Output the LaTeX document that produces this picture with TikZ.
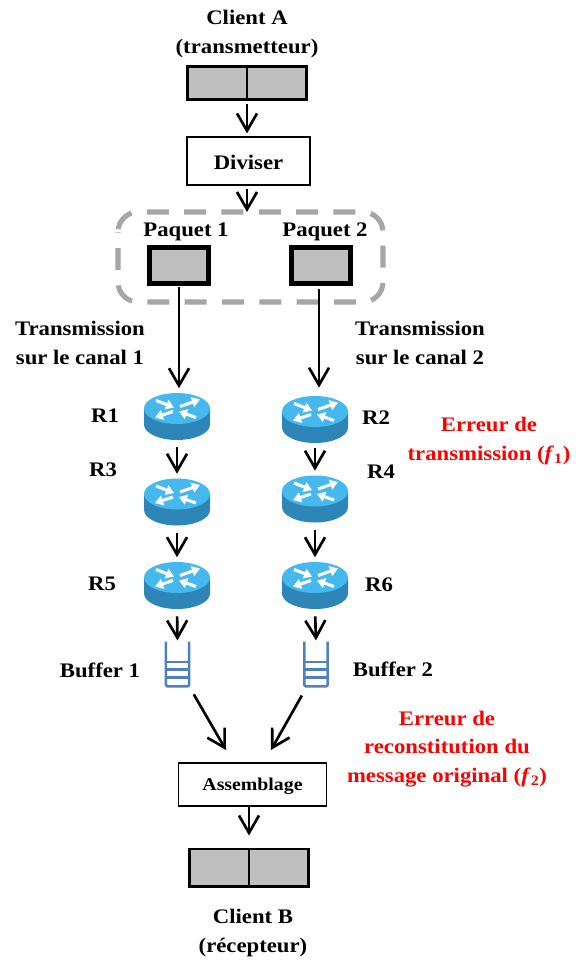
\documentclass[tikz,border=0pt]{standalone}
\usepackage{fontspec}
\usepackage{amsmath}
\setmainfont{Liberation Serif}[FakeStretch=1.1]
\usetikzlibrary{calc}
\usetikzlibrary{arrows.meta}
\definecolor{grisbox}{HTML}{BFBFBF}
\definecolor{grisdash}{HTML}{A6A6A6}
\definecolor{bleutop}{HTML}{45B8EE}
\definecolor{bleuside}{HTML}{2E86B8}
\definecolor{bleubuf}{HTML}{4F81BD}
\tikzset{
  lbl/.style={font=\fontsize{15.5}{21.5}\selectfont\bfseries,align=center,inner sep=0pt},
  errlbl/.style={lbl,text=red},
  whitebox/.style={draw,line width=1.4pt,fill=white,inner sep=0pt},
  msgbox/.style={draw,line width=2pt,fill=grisbox,minimum width=89pt,inner sep=0pt},
  pktbox/.style={draw,line width=3.6pt,fill=grisbox,minimum width=44.5pt,minimum height=27pt,inner sep=0pt},
  arr/.style={line width=2pt,-{Straight Barb[length=13pt,width=15pt,line width=2pt]}},
  bufnode/.style={minimum width=17pt,minimum height=33pt,inner sep=0pt},
  bufline/.style={line width=1.9pt,color=bleubuf},
  whitearr/.style={line width=2.3pt,white,-{Triangle[length=6pt,width=7.5pt]}},
  router/.style={minimum width=51pt,minimum height=36pt,inner sep=0pt,
    path picture={
      \begin{scope}[shift={(path picture bounding box.center)},x=.75pt,y=.75pt]
      \fill[bleuside] (-33,8) -- (-33,-8) arc[start angle=180,end angle=360,x radius=33,y radius=15.5] -- (33,8) -- cycle;
      \fill[bleutop] (0,8) ellipse (33 and 15.5);
      \draw[whitearr] (-21,16) -- (-3,9);
      \draw[whitearr] (3,10) -- (23,17);
      \draw[whitearr] (-4,5) -- (-22,-1);
      \draw[whitearr] (19,-1) -- (2,5);
      \end{scope}
    }}
}
\newcommand{\drawbuf}[1]{
  \draw[bufline,rounded corners=1pt] (#1.north west) -- (#1.south west) -- (#1.south east) -- (#1.north east);
  \foreach \pos in {0.46,0.62,0.8}
    \draw[bufline] ($(#1.north west)!\pos!(#1.south west)$) -- ($(#1.north east)!\pos!(#1.south east)$);
}
\begin{document}
\begin{tikzpicture}[x=.75pt,y=-.75pt]
\useasboundingbox (0,0) rectangle (575,960);
% haut
\node[lbl] (clienta) at (247,34) {Client A\\(transmetteur)};
\node[msgbox,minimum height=25pt] (msga) at (247,83) {};
\draw[line width=2pt] (msga.north) -- (msga.south);
\node[whitebox,minimum width=92pt,minimum height=36pt] (diviser) at (248.5,161) {};
\node[lbl] (divisertxt) at (248.5,162) {Diviser};
\draw[grisdash,line width=3.8pt,rounded corners=15pt,dash pattern=on 16.5pt off 11.5pt,dash phase=16pt] (118,212) rectangle (383,302);
\node[lbl] (paq1txt) at (186,232) {Paquet 1};
\node[lbl] (paq2txt) at (325,232) {Paquet 2};
\node[pktbox] (paq1) at (179,265.5) {};
\node[pktbox] (paq2) at (321,265.5) {};
\node[lbl] (can1) at (80,343) {Transmission\\sur le canal 1};
\node[lbl] (can2) at (420,343) {Transmission\\sur le canal 2};
% routeurs
\node[router] (r1) at (177,416.5) {};
\node[router] (r2) at (315,419.5) {};
\node[router] (r3) at (177,502) {};
\node[router] (r4) at (315,499) {};
\node[router] (r5) at (177,585.5) {};
\node[router] (r6) at (315,585.5) {};
\node[lbl] (r1txt) at (105,416) {R1};
\node[lbl] (r2txt) at (376,418) {R2};
\node[lbl] (r3txt) at (103,470) {R3};
\node[lbl] (r4txt) at (381,472) {R4};
\node[lbl] (r5txt) at (102,584) {R5};
\node[lbl] (r6txt) at (379,585) {R6};
\node[errlbl] (err1) at (489,441) {Erreur de\\transmission (\textit{f}\textsubscript{1})};
% buffers
\node[bufnode] (buf1) at (177.5,664) {};
\node[bufnode] (buf2) at (316,664) {};
\drawbuf{buf1}
\drawbuf{buf2}
\node[lbl] (buf1txt) at (100,670) {Buffer 1};
\node[lbl] (buf2txt) at (393,669) {Buffer 2};
\node[errlbl] (err2) at (447,749) {Erreur de\\reconstitution du\\message original (\textit{f}\textsubscript{2})};
% bas
\node[whitebox,minimum width=111pt,minimum height=32pt] (assemb) at (252.5,784.5) {};
\node[lbl,font=\fontsize{13.5}{16}\selectfont\bfseries] (assembtxt) at (252.5,786) {Assemblage};
\node[msgbox,minimum height=28pt] (msgb) at (249,867.5) {};
\draw[line width=2pt] (msgb.north) -- (msgb.south);
\node[lbl] (clientb) at (253,933) {Client B\\(récepteur)};
\coordinate (p2out) at (319,288);
\coordinate (p2in) at (319,393);
\coordinate (in1) at (226,750);
\coordinate (in2) at (271,750);
\coordinate (dashtop) at (247,212);
\coordinate (assout) at (249,806);
% fleches
\draw[arr,shorten <=2pt,shorten >=2pt] (msga.south) -- (diviser.north -| msga.south);
\draw[arr,shorten <=2pt] (diviser.south -| dashtop) -- (dashtop);
\draw[arr,shorten <=1pt,shorten >=3pt] (paq1.south) -- (paq1.south |- r1.north);
\draw[arr,shorten <=1pt,shorten >=4pt] (p2out) -- (p2in);
\draw[arr,shorten <=5pt,shorten >=3pt] (r1.south) -- (r3.north);
\draw[arr,shorten <=5pt,shorten >=3pt] (r3.south) -- (r5.north);
\draw[arr,shorten <=5pt,shorten >=1pt] (r5.south) -- (buf1.north);
\draw[arr,shorten <=3pt,shorten >=3pt] (r2.south) -- (r4.north);
\draw[arr,shorten <=5pt,shorten >=3pt] (r4.south) -- (r6.north);
\draw[arr,shorten <=5pt,shorten >=1pt] (r6.south) -- (buf2.north);
\draw[arr,shorten <=7pt] (buf1.south east) -- (in1);
\draw[arr,shorten <=8pt] ([xshift=2pt]buf2.south west) -- (in2);
\draw[arr,shorten <=1pt,shorten >=9pt] (assout) -- (msgb.north);
\end{tikzpicture}
\end{document}
